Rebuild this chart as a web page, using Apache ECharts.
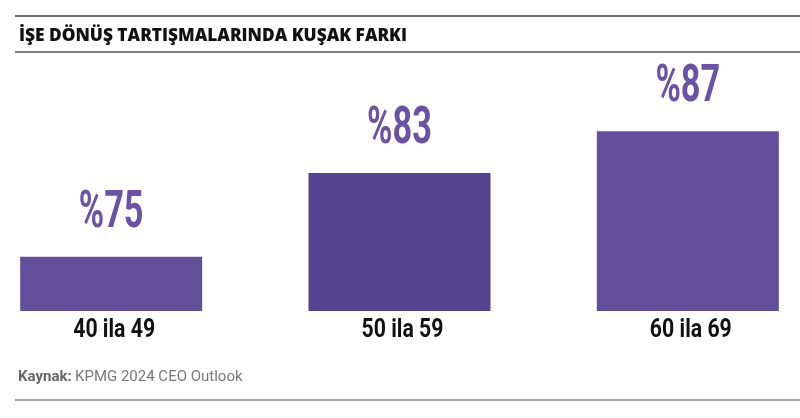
<!DOCTYPE html>
<html>
<head>
<meta charset="utf-8">
<script src="https://cdn.jsdelivr.net/npm/echarts@6/dist/echarts.min.js"></script>
<style>
  html, body { margin: 0; padding: 0; background: #fff; }
  #chart { width: 800px; height: 418px; }
</style>
</head>
<body>
<div id="chart"></div>
<script>
// age groups and share of CEOs (%)
const categories = ["40 ila 49", "50 ila 59", "60 ila 69"];
const values = [75, 83, 87];
const barColors = ["#634f9c", "#534391", "#634f9c"];
const yMin = 69.8;
const yMax = 90;

const chart = echarts.init(document.getElementById("chart"));

const baseGraphics = [
  { type: "line", shape: { x1: 15, y1: 16, x2: 800, y2: 16 }, style: { stroke: "#444", lineWidth: 1.5 } },
  { type: "line", shape: { x1: 15, y1: 52, x2: 800, y2: 52 }, style: { stroke: "#555", lineWidth: 1.5 } },
  { type: "line", shape: { x1: 15, y1: 400, x2: 800, y2: 400 }, style: { stroke: "#888", lineWidth: 1.5 } },
  {
    type: "text",
    left: 18,
    top: 370,
    style: {
      text: "{b|Kaynak:} {r|KPMG 2024 CEO Outlook}",
      rich: {
        b: { fontFamily: "Roboto", fontWeight: "bold", fontSize: 15, fill: "#666" },
        r: { fontFamily: "Roboto", fontSize: 15, fill: "#777" }
      }
    }
  }
];

chart.setOption({
  animation: false,
  title: {
    text: "İŞE DÖNÜŞ TARTIŞMALARINDA KUŞAK FARKI",
    left: 14,
    top: 23,
    textStyle: {
      fontFamily: "Open Sans",
      fontWeight: 800,
      fontSize: 17.3,
      color: "#111"
    }
  },
  grid: {
    left: -33,
    right: -32,
    top: 100,
    bottom: 107,
    outerBoundsMode: "none"
  },
  xAxis: {
    type: "category",
    data: categories,
    axisLine: { show: false },
    axisTick: { show: false },
    axisLabel: { show: false }
  },
  yAxis: {
    type: "value",
    min: yMin,
    max: yMax,
    show: false,
    splitLine: { show: false }
  },
  series: [
    {
      type: "bar",
      barWidth: 182,
      data: values.map((v, i) => ({ value: v, itemStyle: { color: barColors[i] } }))
    }
  ]
});

// the reference uses a condensed face; squeeze Roboto horizontally,
// placed on the chart's own scales
const labelGraphics = [];
categories.forEach((c, i) => {
  const top = chart.convertToPixel({ gridIndex: 0 }, [i, values[i]]);
  const base = chart.convertToPixel({ gridIndex: 0 }, [i, yMin]);
  labelGraphics.push({
    type: "text",
    x: top[0],
    y: top[1] - 43,
    scaleX: 0.66,
    style: {
      text: "%" + values[i],
      fill: "#6a53a6",
      fontFamily: "Roboto",
      fontWeight: "bold",
      fontSize: 52,
      align: "center",
      verticalAlign: "middle"
    }
  });
  labelGraphics.push({
    type: "text",
    x: base[0] + 3,
    y: base[1] + 20,
    scaleX: 0.85,
    style: {
      text: c,
      fill: "#111",
      fontFamily: "Roboto",
      fontWeight: "bold",
      fontSize: 25,
      align: "center",
      verticalAlign: "middle"
    }
  });
});

chart.setOption({ graphic: baseGraphics.concat(labelGraphics) });
</script>
</body>
</html>
